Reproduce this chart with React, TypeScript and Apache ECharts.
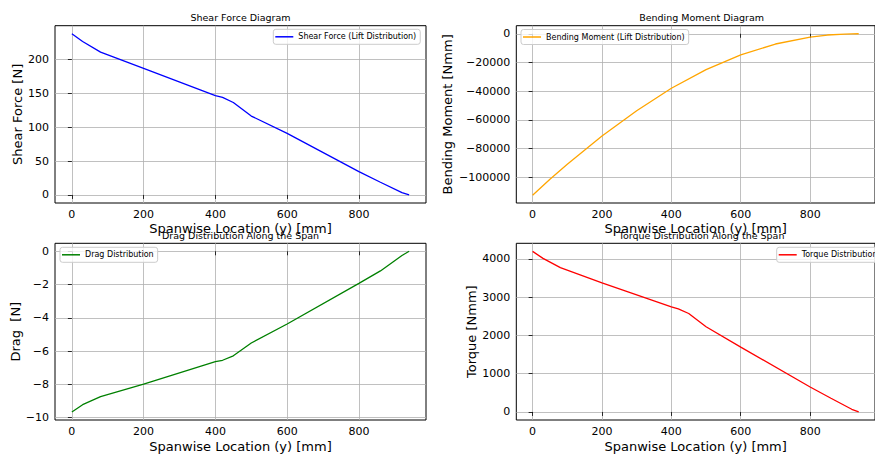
import React, { useEffect, useRef } from 'react';
import * as echarts from 'echarts';

// Spanwise stations [mm]
const spanX = [0, 30, 80, 200, 400, 420, 450, 500, 600, 800, 860, 920, 940];
const shearForce = [238, 226.6, 210.9, 187, 146.8, 144, 136.5, 116.5, 91, 34.4, 18.7, 3.4, 0];
const dragDist = [-9.66, -9.22, -8.74, -7.99, -6.63, -6.55, -6.28, -5.51, -4.37, -1.93, -1.18, -0.25, 0];
const torqueDist = [4198, 4016, 3773, 3374, 2748, 2696, 2574, 2227, 1695, 652, 360, 70, 0];

const bendX = [0, 50, 100, 200, 300, 400, 500, 600, 700, 800, 850, 900, 920, 940];
const bendingMoment = [-112560, -101410, -90860, -71240, -53600, -37950, -24970, -14670, -7140, -2380, -880, -200, -35, 0];

const xTicks = [0, 200, 400, 600, 800];
const shearTicks = [0, 50, 100, 150, 200];
const bendTicks = [-100000, -80000, -60000, -40000, -20000, 0];
const dragTicks = [-10, -8, -6, -4, -2, 0];
const torqueTicks = [0, 1000, 2000, 3000, 4000];

const titles = ['Shear Force Diagram', 'Bending Moment Diagram', 'Drag Distribution Along the Span', 'Torque Distribution Along the Span'];
const yNames = ['Shear Force [N]', 'Bending Moment [Nmm]', 'Drag  [N]', 'Torque [Nmm]'];
const seriesNames = ['Shear Force (Lift Distribution)', 'Bending Moment (Lift Distribution)', 'Drag Distribution', 'Torque Distribution'];
const xName = 'Spanwise Location (y) [mm]';

const FONT = 'DejaVu Sans';
const fmt = (v: number) => String(v).replace('-', '\u2212');

export default function App() {
  const ref = useRef<HTMLDivElement>(null);
  useEffect(() => {
    if (!ref.current) return;
    const chart = echarts.init(ref.current, undefined, { renderer: 'svg' });

    const grids = [
      { left: 55, top: 25.7, width: 371, height: 177.3 },
      { left: 516.3, top: 25.7, width: 370.7, height: 177.3 },
      { left: 55, top: 243.3, width: 371, height: 176.7 },
      { left: 516.3, top: 243.3, width: 370.7, height: 176.7 },
    ];
    const yRanges = [
      [-11.9, 249.9, shearTicks],
      [-117900, 5615, bendTicks],
      [-10.14, 0.48, dragTicks],
      [-210, 4410, torqueTicks],
    ] as const;
    const yNameGaps = [30, 62, 32.5, 37.5];
    const xNameGaps = [18.5, 18.5, 19.5, 19.5];
    const colors = ['#0000ff', '#ffa500', '#008000', '#ff0000'];
    const datas = [
      spanX.map((x, i) => [x, shearForce[i]]),
      bendX.map((x, i) => [x, bendingMoment[i]]),
      spanX.map((x, i) => [x, dragDist[i]]),
      spanX.map((x, i) => [x, torqueDist[i]]),
    ];
    const legendPos = [
      { left: 273.3, top: 29.3 },
      { left: 521, top: 29.5 },
      { left: 60, top: 247.3 },
      { left: 776.7, top: 247.3 },
    ];

    const textBase = { fontFamily: FONT, color: '#000' };

    chart.setOption({
      animation: false,
      backgroundColor: '#fff',
      grid: grids.map((g) => ({ ...g, show: true, borderColor: '#000', borderWidth: 1, backgroundColor: 'transparent', containLabel: false })),
      xAxis: grids.map((_, i) => ({
        type: 'value',
        gridIndex: i,
        min: -47,
        max: 987,
        axisLine: { show: false },
        axisTick: { show: true, length: 4, customValues: xTicks, lineStyle: { color: '#000', width: 0.8 } },
        axisLabel: { customValues: xTicks, fontSize: 11, margin: 6, ...textBase, formatter: fmt },
        splitLine: { show: true, lineStyle: { color: '#b0b0b0', width: 0.8 } },
        name: xName,
        nameLocation: 'middle',
        nameGap: xNameGaps[i],
        nameTextStyle: { fontSize: 13, ...textBase },
      })),
      yAxis: grids.map((_, i) => ({
        type: 'value',
        gridIndex: i,
        min: yRanges[i][0],
        max: yRanges[i][1],
        axisLine: { show: false },
        axisTick: { show: true, length: 4, customValues: yRanges[i][2], lineStyle: { color: '#000', width: 0.8 } },
        axisLabel: { customValues: yRanges[i][2], fontSize: 11, margin: 6, ...textBase, formatter: fmt },
        splitLine: { show: true, lineStyle: { color: '#b0b0b0', width: 0.8 } },
        name: yNames[i],
        nameLocation: 'middle',
        nameGap: yNameGaps[i],
        nameTextStyle: { fontSize: 13, ...textBase },
      })),
      legend: legendPos.map((p, i) => ({
        ...p,
        data: [seriesNames[i]],
        orient: 'horizontal',
        icon: 'rect',
        itemWidth: 18,
        itemHeight: 1.5,
        padding: [3, 4, 3, 2],
        selectedMode: false,
        backgroundColor: 'rgba(255,255,255,0.8)',
        borderColor: '#cccccc',
        borderWidth: 1,
        borderRadius: 2.5,
        textStyle: { fontSize: 8, lineHeight: 9, ...textBase },
      })),
      series: datas.map((d, i) => ({
        type: 'line',
        name: seriesNames[i],
        xAxisIndex: i,
        yAxisIndex: i,
        data: d,
        symbol: 'none',
        showSymbol: false,
        lineStyle: { color: colors[i], width: 1.3 },
        itemStyle: { color: colors[i] },
        z: 3,
      })),
      graphic: [
        { cx: 240.5, cy: 17.5 },
        { cx: 701.6, cy: 17.5 },
        { cx: 240.5, cy: 235.5 },
        { cx: 701.6, cy: 235.5 },
      ].map((p, i) => ({
        type: 'text',
        x: p.cx,
        y: p.cy,
        z: 10,
        style: { text: titles[i], fontSize: 9.5, fontFamily: FONT, fill: '#000', align: 'center', verticalAlign: 'middle' },
      })),
    });
    return () => chart.dispose();
  }, []);
  return <div ref={ref} style={{ position: 'absolute', left: 0, top: 0, width: 875, height: 454, overflow: 'hidden' }} />;
}
